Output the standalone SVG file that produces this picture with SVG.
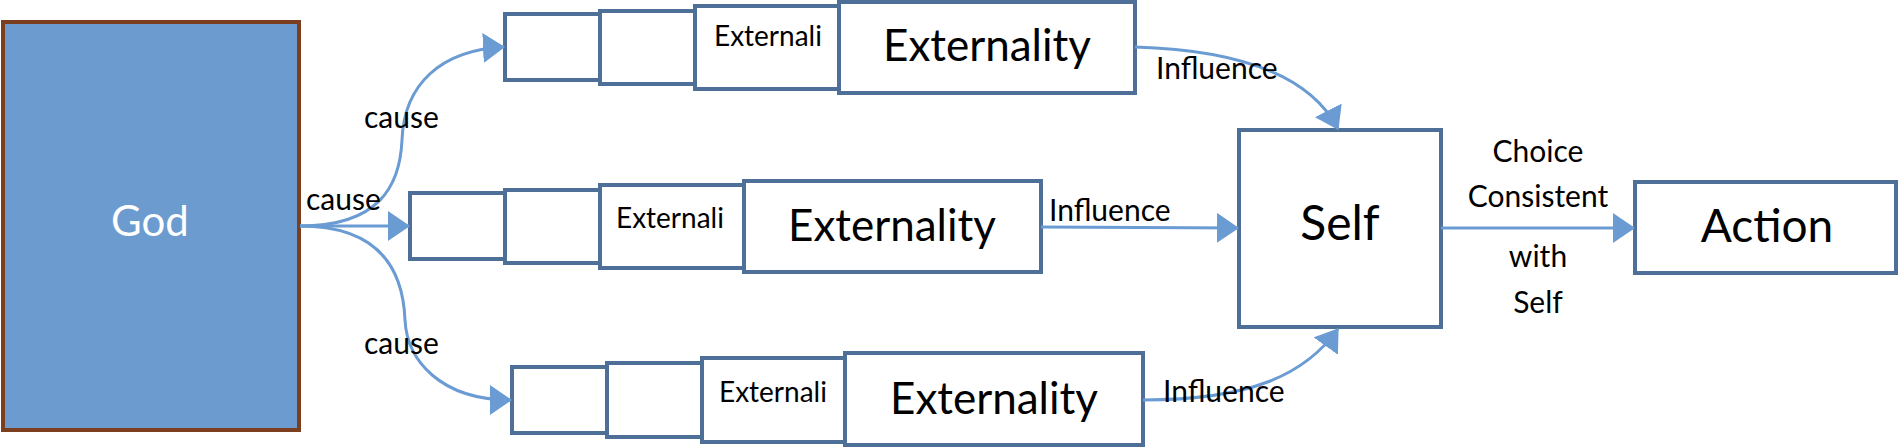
<svg xmlns="http://www.w3.org/2000/svg" width="1898" height="447" viewBox="0 0 1898 447">
<style>
.b{fill:#fff;stroke:#4e6f98;stroke-width:4}
.t{font-family:Lato,"Open Sans",sans-serif;fill:#000}
.c{fill:none;stroke:#6a9bd2;stroke-width:3}
</style>
<defs><marker id="a" markerWidth="22" markerHeight="30" refX="21" refY="15" orient="auto" markerUnits="userSpaceOnUse"><path d="M0,0L22,15L0,30z" fill="#6a9bd2"/></marker></defs>
<rect width="1898" height="447" fill="#fff"/>
<g id="god"><rect x="3" y="22" width="296" height="408" fill="#6b9bcf" stroke="#7b3f1f" stroke-width="4"/><text class="t" x="150" y="236" font-size="42" text-anchor="middle" style="fill:#fff">God</text></g>
<g id="top">
<rect class="b" x="505" y="14" width="95" height="66"/><rect class="b" x="600" y="11" width="95" height="73"/>
<rect class="b" x="695" y="6" width="144" height="83"/><text class="t" x="714" y="46" font-size="28">Externali</text>
<rect class="b" x="839" y="2" width="296" height="91"/><text class="t" x="987" y="61" font-size="44" text-anchor="middle">Externality</text></g>
<g id="mid">
<rect class="b" x="410" y="193" width="95" height="66"/><rect class="b" x="505" y="190" width="95" height="73"/>
<rect class="b" x="600" y="185" width="144" height="83"/><text class="t" x="616" y="228" font-size="28">Externali</text>
<rect class="b" x="744" y="181" width="297" height="91"/><text class="t" x="892" y="241" font-size="44" text-anchor="middle">Externality</text></g>
<g id="bot">
<rect class="b" x="512" y="367" width="95" height="66"/><rect class="b" x="607" y="363" width="95" height="74"/>
<rect class="b" x="702" y="358" width="143" height="84"/><text class="t" x="719" y="402" font-size="28">Externali</text>
<rect class="b" x="845" y="353" width="298" height="92"/><text class="t" x="994" y="414" font-size="44" text-anchor="middle">Externality</text></g>
<g id="self"><rect class="b" x="1239" y="130" width="202" height="197"/><text class="t" x="1340" y="240" font-size="48" text-anchor="middle">Self</text></g>
<g id="action"><rect class="b" x="1635" y="182" width="261" height="91"/><text class="t" x="1767" y="242" font-size="46" text-anchor="middle">Action</text></g>
<g id="connectors">
<path class="c" marker-end="url(#a)" d="M300,226C380,226 400,185 402,140C404,85 440,50 504,47"/>
<path class="c" marker-end="url(#a)" d="M300,226L409,226"/>
<path class="c" marker-end="url(#a)" d="M300,226C380,226 403,270 405,320C407,360 440,400 511,400"/>
<path class="c" marker-end="url(#a)" d="M1135,47C1240,50 1310,75 1338,129"/>
<path class="c" marker-end="url(#a)" d="M1041,227L1238,228"/>
<path class="c" marker-end="url(#a)" d="M1143,400C1250,400 1305,375 1338,329"/>
<path class="c" marker-end="url(#a)" d="M1441,228L1634,228"/>
</g>
<g class="t" font-size="30">
<text x="364" y="128">cause</text><text x="306" y="210">cause</text><text x="364" y="354">cause</text>
<text x="1156" y="79">Influence</text><text x="1049" y="221">Influence</text><text x="1163" y="402">Influence</text>
<text x="1538" y="162" text-anchor="middle">Choice</text><text x="1538" y="207" text-anchor="middle">Consistent</text><text x="1538" y="267" text-anchor="middle">with</text><text x="1538" y="313" text-anchor="middle">Self</text>
</g>
</svg>
